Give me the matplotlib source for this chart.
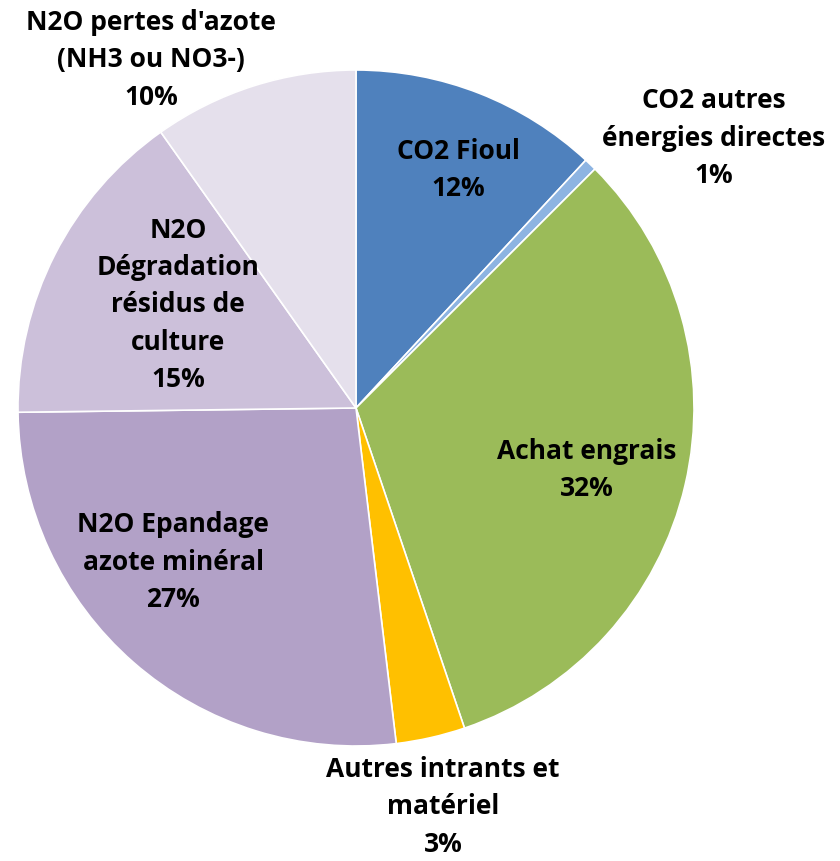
import matplotlib
matplotlib.use("Agg")
import matplotlib.pyplot as plt

categories = [
    "CO2 Fioul",
    "CO2 autres\nénergies directes",
    "Achat engrais",
    "Autres intrants et\nmatériel",
    "N2O Epandage\nazote minéral",
    "N2O\nDégradation\nrésidus de\nculture",
    "N2O pertes d'azote\n(NH3 ou NO3-)",
]
values = [11.9, 0.6, 32.3, 3.3, 26.7, 15.4, 9.8]
colors = ["#4F81BD", "#8DB4E2", "#9BBB59", "#FFC000", "#B2A1C7", "#CCC0DA", "#E5E0EC"]

# label centres in pixel coordinates of the image (x, y from top)
label_px = [(458, 170), (714, 138), (587, 470), (443, 807), (173, 562), (178, 305), (151, 60)]

plt.rcParams['font.family'] = ['Open Sans', 'DejaVu Sans']

fig = plt.figure(figsize=(8.4, 8.61), dpi=100)
cx, cy, r = 356, 408, 338
W, H = 840, 861
ax = fig.add_axes([(cx - r) / W, 1 - (cy + r) / H, 2 * r / W, 2 * r / H])
ax.pie(values, colors=colors, startangle=90, counterclock=False,
       wedgeprops=dict(edgecolor="white", linewidth=1.2), radius=1)
ax.set_xlim(-1, 1)
ax.set_ylim(-1, 1)
ax.set_aspect("equal")

total = sum(values)
for cat, v, (px, py) in zip(categories, values, label_px):
    pct = round(v / total * 100)
    if pct < 1:
        pct = 1
    txt = f"{cat}\n{pct}%"
    ax.text((px - cx) / r, (cy - py) / r, txt, ha="center", va="center",
            fontsize=19, fontweight="bold", color="black", linespacing=1.48,
            clip_on=False)

fig.savefig("out.png", dpi=100)
